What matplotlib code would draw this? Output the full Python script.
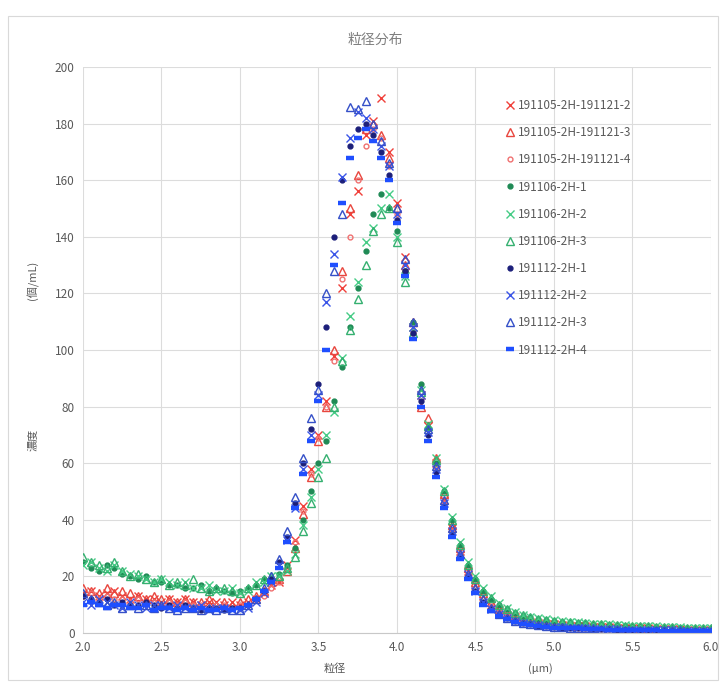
import matplotlib.pyplot as plt
from matplotlib.patches import Rectangle

plt.rcParams['font.family'] = ['Noto Sans CJK JP', 'DejaVu Sans']

# particle size grid (um)
size_um = [2.00, 2.05, 2.10, 2.15, 2.20, 2.25, 2.30, 2.35, 2.40, 2.45,
           2.50, 2.55, 2.60, 2.65, 2.70, 2.75, 2.80, 2.85, 2.90, 2.95,
           3.00, 3.05, 3.10, 3.15, 3.20, 3.25, 3.30, 3.35, 3.40, 3.45,
           3.50, 3.55, 3.60, 3.65, 3.70, 3.75, 3.80, 3.85, 3.90, 3.95,
           4.00, 4.05, 4.10, 4.15, 4.20, 4.25, 4.30, 4.35, 4.40, 4.45,
           4.50, 4.55, 4.60, 4.65, 4.70, 4.75, 4.80, 4.85, 4.90, 4.95,
           5.00, 5.05, 5.10, 5.15, 5.20, 5.25, 5.30, 5.35, 5.40, 5.45,
           5.50, 5.55, 5.60, 5.65, 5.70, 5.75, 5.80, 5.85, 5.90, 5.95, 6.00]

s_191105_2 = [14, 15, 13, 14, 15, 13, 12, 13, 12, 12, 11, 12, 11, 12, 11, 10, 11, 11, 10, 11,
              10, 11, 12, 14, 17, 18, 24, 33, 45, 58,
              70, 82, 98, 122, 148, 156, 176, 181, 189, 170,
              152, 133, 108, 84, 73, 60, 47, 37, 29, 22,
              17, 13, 10, 8, 6.5, 5.5, 4.6, 4, 3.6, 3.2,
              3, 2.8, 2.6, 2.5, 2.4, 2.2, 2.1, 2, 1.9, 1.8,
              1.7, 1.6, 1.6, 1.5, 1.4, 1.4, 1.3, 1.2, 1.2, 1.1, 1.0]
s_191105_3 = [16, 15, 14, 16, 14, 15, 14, 13, 12, 13, 12, 12, 11, 12, 11, 11, 12, 10, 11, 10,
              11, 12, 13, 15, 18, 19, 22, 30, 42, 55,
              68, 80, 100, 128, 150, 162, 178, 180, 176, 168,
              150, 130, 110, 80, 76, 62, 49, 38, 30, 23,
              18, 14, 11, 8.5, 7, 6, 5, 4.3, 3.8, 3.4,
              3.1, 2.9, 2.7, 2.6, 2.4, 2.3, 2.2, 2.1, 2.0, 1.9,
              1.8, 1.7, 1.6, 1.6, 1.5, 1.4, 1.4, 1.3, 1.2, 1.2, 1.1]
s_191105_4 = [13, 14, 12, 13, 12, 12, 11, 12, 11, 11, 10, 11, 10, 11, 10, 10, 9, 10, 10, 9,
              10, 10, 12, 13, 16, 18, 23, 32, 43, 56,
              69, 80, 96, 125, 140, 160, 172, 178, 175, 165,
              148, 128, 106, 83, 72, 58, 46, 36, 28, 21,
              16, 12, 9.5, 7.5, 6.2, 5.2, 4.4, 3.8, 3.4, 3.0,
              2.8, 2.6, 2.5, 2.3, 2.2, 2.1, 2.0, 1.9, 1.8, 1.7,
              1.6, 1.5, 1.5, 1.4, 1.3, 1.3, 1.2, 1.1, 1.1, 1.0, 1.0]
s_191106_1 = [25, 23, 22, 24, 23, 21, 20, 19, 20, 18, 18, 17, 17, 16, 16, 17, 15, 16, 15, 14,
              15, 16, 17, 19, 19, 21, 24, 30, 40, 50,
              60, 68, 82, 94, 108, 122, 135, 148, 155, 150,
              142, 128, 110, 88, 72, 60, 50, 40, 31, 24,
              19, 15, 12, 10, 8.5, 7, 6, 5.5, 5, 4.6,
              4.3, 4, 3.8, 3.6, 3.4, 3.2, 3.0, 2.9, 2.8, 2.6,
              2.5, 2.4, 2.3, 2.2, 2.1, 2.0, 1.9, 1.8, 1.8, 1.7, 1.6]
s_191106_2 = [24, 25, 23, 22, 24, 22, 21, 20, 19, 18, 19, 18, 17, 18, 16, 16, 17, 15, 15, 16,
              14, 15, 18, 18, 20, 20, 22, 28, 38, 48,
              58, 70, 78, 97, 112, 124, 138, 143, 150, 155,
              140, 126, 108, 86, 74, 62, 51, 41, 32, 25,
              20, 16, 13, 10.5, 9, 7.5, 6.5, 5.8, 5.2, 4.8,
              4.5, 4.2, 4, 3.8, 3.5, 3.3, 3.1, 3.0, 2.9, 2.7,
              2.6, 2.5, 2.4, 2.3, 2.2, 2.1, 2.0, 1.9, 1.9, 1.8, 1.7]
s_191106_3 = [27, 25, 24, 23, 25, 22, 20, 21, 19, 18, 19, 17, 18, 17, 19, 16, 15, 16, 16, 15,
              14, 16, 17, 19, 20, 20, 23, 27, 36, 46,
              55, 62, 80, 96, 107, 118, 130, 142, 148, 150,
              138, 124, 106, 85, 73, 61, 50, 40, 31, 24,
              19, 15, 12.5, 10, 8.5, 7.2, 6.2, 5.6, 5.0, 4.6,
              4.3, 4.0, 3.8, 3.6, 3.4, 3.2, 3.0, 2.9, 2.8, 2.6,
              2.5, 2.4, 2.3, 2.2, 2.1, 2.0, 1.9, 1.8, 1.7, 1.7, 1.6]
s_191112_1 = [13, 12, 11, 12, 10, 11, 10, 10, 11, 10, 9, 10, 9, 10, 9, 8, 9, 9, 8, 9,
              9, 10, 12, 15, 19, 25, 34, 46, 60, 72,
              88, 108, 140, 160, 172, 178, 180, 176, 170, 162,
              146, 128, 106, 82, 70, 57, 45, 35, 27, 20,
              15, 11, 8.5, 6.5, 5.2, 4.2, 3.5, 3.0, 2.6, 2.3,
              2.1, 1.9, 1.8, 1.7, 1.6, 1.5, 1.4, 1.3, 1.2, 1.2,
              1.1, 1.0, 1.0, 0.9, 0.9, 0.8, 0.8, 0.8, 0.7, 0.7, 0.6]
s_191112_2 = [11, 10, 12, 11, 10, 9, 11, 10, 9, 10, 10, 9, 10, 9, 9, 10, 8, 9, 9, 8,
              8, 9, 11, 14, 18, 24, 33, 44, 58, 70,
              84, 117, 134, 161, 175, 184, 182, 178, 172, 165,
              148, 130, 108, 84, 71, 58, 46, 36, 28, 21,
              15, 11, 8.5, 6.6, 5.3, 4.3, 3.6, 3.1, 2.7, 2.4,
              2.2, 2.0, 1.9, 1.7, 1.6, 1.5, 1.4, 1.4, 1.3, 1.2,
              1.1, 1.1, 1.0, 1.0, 0.9, 0.9, 0.8, 0.8, 0.8, 0.7, 0.7]
s_191112_3 = [14, 12, 11, 10, 11, 9, 10, 9, 10, 9, 10, 9, 8, 9, 9, 8, 9, 8, 9, 8,
              8, 10, 12, 16, 20, 26, 36, 48, 62, 76,
              86, 120, 128, 148, 186, 185, 188, 180, 174, 166,
              150, 132, 110, 86, 72, 59, 47, 37, 28, 21,
              16, 12, 9, 6.8, 5.4, 4.4, 3.7, 3.2, 2.8, 2.5,
              2.2, 2.0, 1.9, 1.8, 1.7, 1.6, 1.5, 1.4, 1.3, 1.2,
              1.2, 1.1, 1.0, 1.0, 0.9, 0.9, 0.9, 0.8, 0.8, 0.7, 0.7]
s_191112_4 = [10, 11, 10, 9, 10, 10, 9, 9, 10, 8, 9, 9, 8, 9, 8, 9, 8, 8, 9, 8,
              9, 10, 12, 15, 18, 23, 32, 44, 56, 68,
              82, 100, 130, 152, 168, 175, 178, 174, 168, 160,
              145, 126, 104, 80, 68, 55, 44, 34, 26, 19,
              14, 10, 7.8, 6, 4.8, 3.9, 3.2, 2.8, 2.4, 2.1,
              1.9, 1.8, 1.7, 1.6, 1.5, 1.4, 1.3, 1.2, 1.1, 1.1,
              1.0, 1.0, 0.9, 0.9, 0.8, 0.8, 0.7, 0.7, 0.7, 0.6, 0.6]

labels = ['191105-2H-191121-2', '191105-2H-191121-3', '191105-2H-191121-4',
          '191106-2H-1', '191106-2H-2', '191106-2H-3',
          '191112-2H-1', '191112-2H-2', '191112-2H-3', '191112-2H-4']
values = [s_191105_2, s_191105_3, s_191105_4,
          s_191106_1, s_191106_2, s_191106_3,
          s_191112_1, s_191112_2, s_191112_3, s_191112_4]

# marker, colour, size, filled
styles = [('x', '#f0403a', 6, False),
          ('^', '#e8463e', 6, False),
          ('o', '#f07070', 3.5, False),
          ('o', '#1f8a55', 3.5, True),
          ('x', '#46cc86', 6, False),
          ('^', '#35b070', 6, False),
          ('o', '#1c1f7a', 3.5, True),
          ('x', '#3a55e8', 6, False),
          ('^', '#3550c8', 6, False),
          ('_', '#1f4fff', 6, True)]

fig = plt.figure(figsize=(7.26, 6.84), dpi=100)
ax = fig.add_axes([0.1143, 0.0746, 0.865, 0.8275])

for lab, y, (m, c, ms, filled) in zip(labels, values, styles):
    if m == '_':
        ax.plot(size_um, y, linestyle='none', marker=m, color=c, markersize=ms,
                markeredgewidth=3.2, label=lab)
    elif filled:
        ax.plot(size_um, y, linestyle='none', marker=m, color=c, markersize=ms,
                label=lab)
    elif m == 'x':
        ax.plot(size_um, y, linestyle='none', marker=m, color=c, markersize=ms,
                markeredgewidth=1.0, label=lab)
    else:
        ax.plot(size_um, y, linestyle='none', marker=m, markerfacecolor='none',
                markeredgecolor=c, markersize=ms, markeredgewidth=1.0, label=lab)

ax.set_xlim(2.0, 6.0)
ax.set_ylim(0, 200)
ax.set_xticks([2.0, 2.5, 3.0, 3.5, 4.0, 4.5, 5.0, 5.5, 6.0])
ax.set_xticklabels(['2.0', '2.5', '3.0', '3.5', '4.0', '4.5', '5.0', '5.5', '6.0'])
ax.set_yticks(range(0, 201, 20))
ax.grid(True, color='#dcdcdc', linewidth=0.8)
ax.set_axisbelow(True)
for sp in ['top', 'right', 'left']:
    ax.spines[sp].set_visible(False)
ax.spines['bottom'].set_color('#c8c8c8')
ax.tick_params(length=0, colors='#595959', labelsize=8.5, pad=6)

fig.text(0.517, 0.941, '粒径分布', ha='center', va='center', fontsize=10, color='#7f7f7f')
fig.text(0.045, 0.59, '(個/mL)', rotation=90, ha='center', va='center', fontsize=8, color='#595959')
fig.text(0.045, 0.357, '濃度', rotation=90, ha='center', va='center', fontsize=8, color='#595959')
fig.text(0.461, 0.023, '粒径', ha='center', va='center', fontsize=8, color='#595959')
fig.text(0.744, 0.023, '(μm)', ha='center', va='center', fontsize=8, color='#595959')

leg = fig.legend(loc='upper left', bbox_to_anchor=(0.69, 0.862), frameon=False,
                 fontsize=8.5, labelspacing=1.2, handlelength=0.8, handletextpad=0.2,
                 borderaxespad=0)
for t in leg.get_texts():
    t.set_color('#595959')

fig.patches.append(Rectangle((0.011, 0.006), 0.978, 0.97, transform=fig.transFigure,
                             fill=False, edgecolor='#d9d9d9', linewidth=0.8))

fig.savefig('out.png', dpi=100)
